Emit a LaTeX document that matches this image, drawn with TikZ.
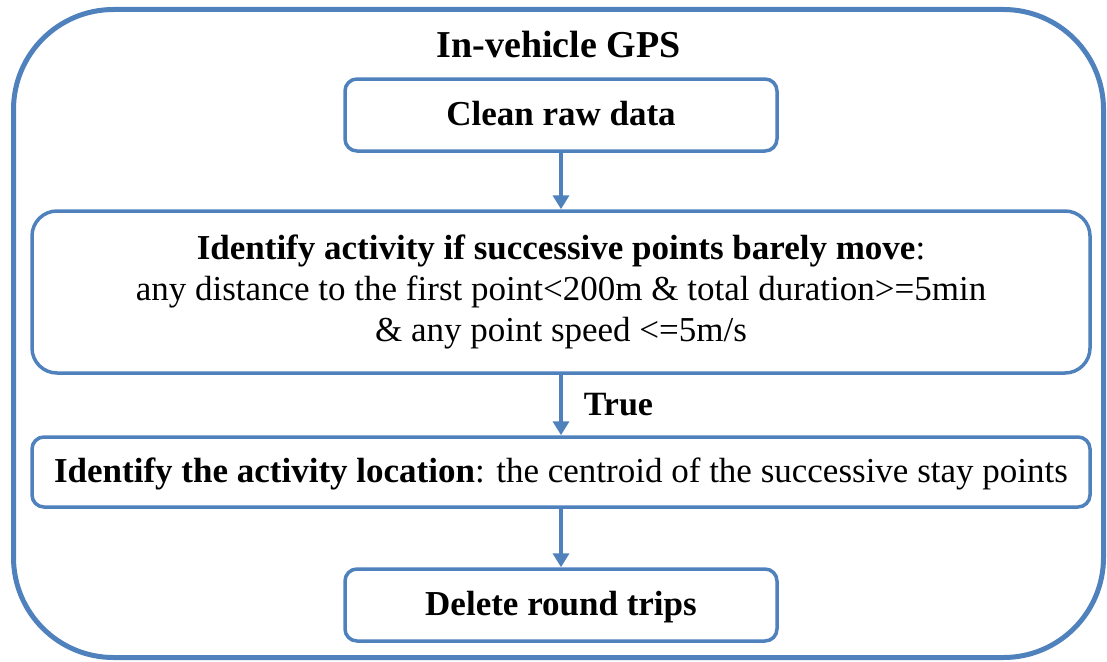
\documentclass[tikz,border=0pt]{standalone}
\usepackage{fontspec}
\setmainfont{Liberation Serif}
\usetikzlibrary{arrows.meta}
\definecolor{boxblue}{HTML}{4F81BD}
\tikzset{
  outerbox/.style={draw=boxblue, line width=5pt, rounded corners=100pt},
  stepbox/.style={draw=boxblue, line width=3.5pt, rounded corners=12pt, fill=white,
    font=\fontsize{35}{41}\selectfont, text height=26pt, text depth=5pt,
    inner sep=0pt, align=center},
  bigbox/.style={draw=boxblue, line width=3.5pt, rounded corners=25pt, fill=white,
    font=\fontsize{35}{41}\selectfont, inner sep=0pt, align=center},
  flow/.style={draw=boxblue, line width=3.5pt, -{Triangle[width=16pt,length=14pt]}},
  titletext/.style={font=\fontsize{38}{44}\selectfont\bfseries, inner sep=0pt},
  truelbl/.style={font=\fontsize{34}{40}\selectfont\bfseries, inner sep=0pt, anchor=west, xshift=21pt}
}
\begin{document}
\begin{tikzpicture}[x=1pt,y=-1pt]
\useasboundingbox (0,0) rectangle (1107,661);
\draw[outerbox] (13.5,9.5) rectangle (1103.5,657.5);
\node[titletext, anchor=base] (title) at (558.5,57) {In-vehicle GPS};
\node[stepbox, minimum width=432pt, minimum height=72pt] (clean) at (561,115) {\bfseries Clean raw data};
\node[bigbox, minimum width=1058pt, minimum height=162pt] (ident) at (561,292)
  {\textbf{Identify activity if successive points barely move}:\\
   any distance to the first point<200m \& total duration>=5min\\
   \& any point speed <=5m/s};
\node[stepbox, minimum width=1058pt, minimum height=70pt] (loc) at (561,472)
  {\textbf{Identify the activity location}: the centroid of the successive stay points};
\node[stepbox, minimum width=432pt, minimum height=72pt] (del) at (561,605) {\bfseries Delete round trips};
\draw[flow] (clean) -- (ident);
\draw[flow] (ident) -- node[truelbl] {True} (loc);
\draw[flow] (loc) -- (del);
\end{tikzpicture}
\end{document}
